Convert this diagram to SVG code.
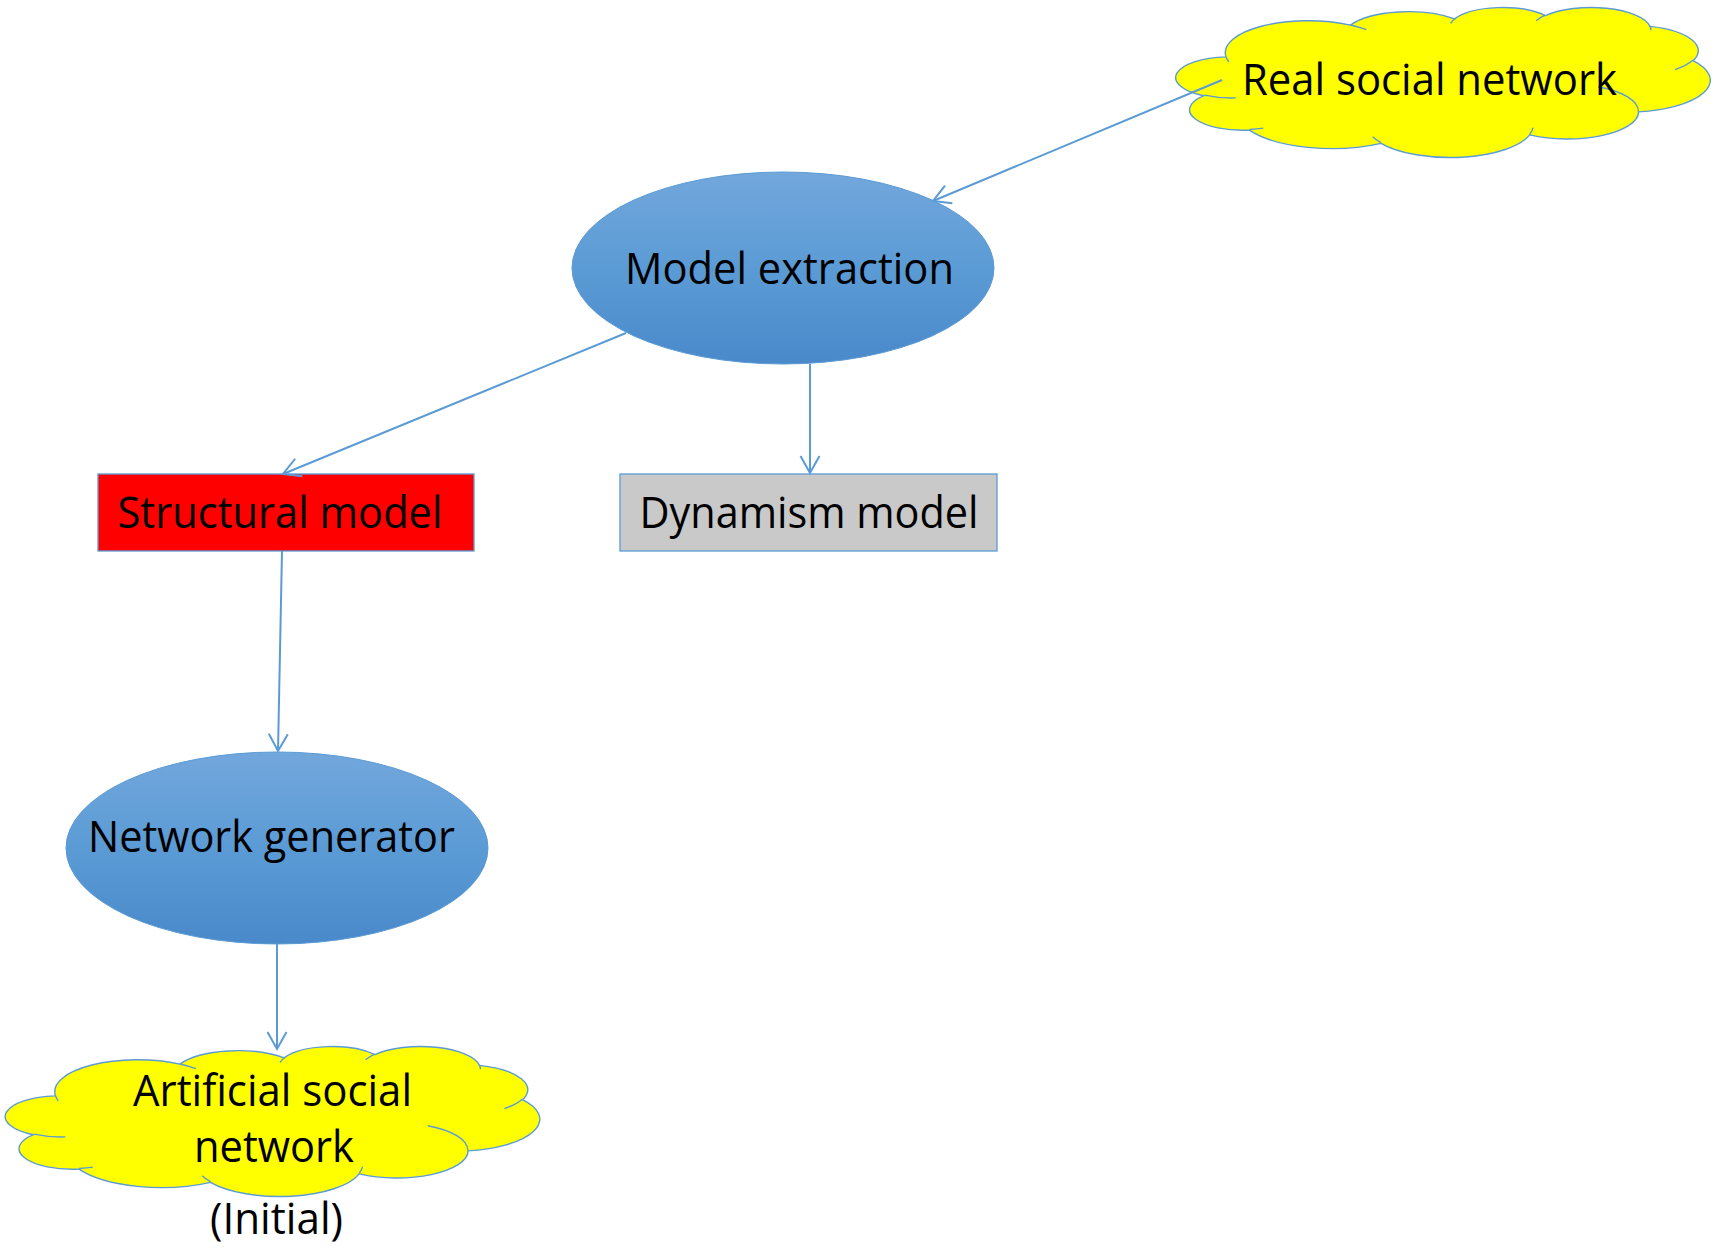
<svg xmlns="http://www.w3.org/2000/svg" xmlns:xlink="http://www.w3.org/1999/xlink" width="1721" height="1249" viewBox="0 0 1721 1249">
  <style>
    .label { font-family: "Open Sans", "Noto Sans", "Liberation Sans", sans-serif; font-size: 43px; fill: #000000; text-anchor: middle; }
    .edge { fill: none; stroke: #5B9BD5; stroke-width: 2; }
    .oval { fill: url(#ovalFill); stroke: #5B9BD5; stroke-width: 1; }
    .box { stroke: #5B9BD5; stroke-width: 1.3; }
    .cloud-body { fill: #FFFF00; stroke: #5B9BD5; stroke-width: 1.4; }
    .cloud-seam { fill: none; stroke: #5B9BD5; stroke-width: 1.4; }
  </style>
  <defs>
    <linearGradient id="ovalFill" x1="0" y1="0" x2="0" y2="1">
      <stop offset="0" stop-color="#72A7DC"/>
      <stop offset="0.5" stop-color="#5B9BD5"/>
      <stop offset="1" stop-color="#4A89CA"/>
    </linearGradient>
    <marker id="openArrow" markerUnits="userSpaceOnUse" viewBox="-20 -12 24 24" refX="0" refY="0" markerWidth="24" markerHeight="24" orient="auto">
      <path d="M -17 -9.5 L 0 0 L -17 9.5" fill="none" stroke="#5B9BD5" stroke-width="2"/>
    </marker>
    <!-- cloud outline, 532 x 150 local box -->
    <path id="cloudOutline" d="M 48.03 49.90 A 83.16 31.91 0 0 1 172.47 18.06 A 65.68 25.23 0 0 1 276.54 11.92 A 53.75 20.64 0 0 1 367.39 8.61 A 59.81 22.90 0 0 1 471.89 19.36 A 65.68 25.25 0 0 1 515.00 53.68 A 83.43 32.01 0 0 1 460.64 104.88 A 71.24 27.32 0 0 1 351.68 127.83 A 83.15 32.00 0 0 1 202.97 136.34 A 95.07 36.61 0 0 1 71.50 123.17 A 53.69 20.55 0 0 1 26.04 88.72 A 53.51 20.64 0 0 1 48.03 49.90 Z"/>
    <!-- short inner arcs where the puffs overlap -->
    <path id="cloudSeams" d="M 57.79 90.89 A 53.51 20.64 0 0 1 26.60 88.13 M 85.32 121.18 A 53.69 20.55 0 0 1 71.66 122.50 M 202.93 135.73 A 83.15 32.00 0 0 1 194.70 129.69 M 355.00 120.66 A 83.15 32.00 0 0 1 351.72 127.29 M 420.29 79.70 A 71.24 27.32 0 0 1 460.33 104.48 M 514.74 53.31 A 65.68 25.25 0 0 1 496.89 62.61 M 471.95 18.84 A 59.81 22.90 0 0 1 472.89 23.23 M 358.09 13.72 A 59.81 22.90 0 0 1 367.22 8.13 M 272.66 16.39 A 53.75 20.64 0 0 1 277.08 11.56 M 172.41 18.03 A 83.16 31.91 0 0 1 188.42 22.71 M 50.82 54.82 A 83.16 31.91 0 0 1 48.03 49.90"/>
  </defs>

  <rect x="0" y="0" width="1721" height="1249" fill="#FFFFFF"/>

  <g id="real-social-network" transform="translate(1178 7)">
    <use xlink:href="#cloudOutline" class="cloud-body"/>
    <use xlink:href="#cloudSeams" class="cloud-seam"/>
    <text class="label" x="251.5" y="88" textLength="375" lengthAdjust="spacingAndGlyphs">Real social network</text>
  </g>

  <g id="model-extraction">
    <ellipse class="oval" cx="783" cy="268" rx="211" ry="96"/>
    <text class="label" x="789.5" y="284" textLength="329" lengthAdjust="spacingAndGlyphs">Model extraction</text>
  </g>

  <g id="structural-model">
    <rect class="box" x="98" y="474" width="376" height="77" fill="#FF0000"/>
    <text class="label" x="280" y="528" textLength="325" lengthAdjust="spacingAndGlyphs">Structural model</text>
  </g>

  <g id="dynamism-model">
    <rect class="box" x="620" y="474" width="377" height="77" fill="#C9C9C9"/>
    <text class="label" x="809" y="528" textLength="339" lengthAdjust="spacingAndGlyphs">Dynamism model</text>
  </g>

  <g id="network-generator">
    <ellipse class="oval" cx="277" cy="848" rx="211" ry="96"/>
    <text class="label" x="271.5" y="852" textLength="367" lengthAdjust="spacingAndGlyphs">Network generator</text>
  </g>

  <g id="artificial-social-network">
    <g transform="translate(7.5 1046)">
      <use xlink:href="#cloudOutline" class="cloud-body"/>
      <use xlink:href="#cloudSeams" class="cloud-seam"/>
    </g>
    <text class="label" x="272.5" y="1106" textLength="279" lengthAdjust="spacingAndGlyphs">Artificial social</text>
    <text class="label" x="274" y="1162" textLength="160" lengthAdjust="spacingAndGlyphs">network</text>
    <text class="label" x="276.5" y="1234" textLength="133" lengthAdjust="spacingAndGlyphs">(Initial)</text>
  </g>

  <!-- connectors, drawn over the shapes -->
  <g id="connectors">
    <line class="edge" x1="1222" y1="80" x2="933" y2="201" marker-end="url(#openArrow)"/>
    <line class="edge" x1="626" y1="333" x2="283" y2="474" marker-end="url(#openArrow)"/>
    <line class="edge" x1="810" y1="364" x2="810" y2="473" marker-end="url(#openArrow)"/>
    <line class="edge" x1="282" y1="551" x2="278" y2="751" marker-end="url(#openArrow)"/>
    <line class="edge" x1="277" y1="944" x2="277" y2="1049" marker-end="url(#openArrow)"/>
  </g>
</svg>
